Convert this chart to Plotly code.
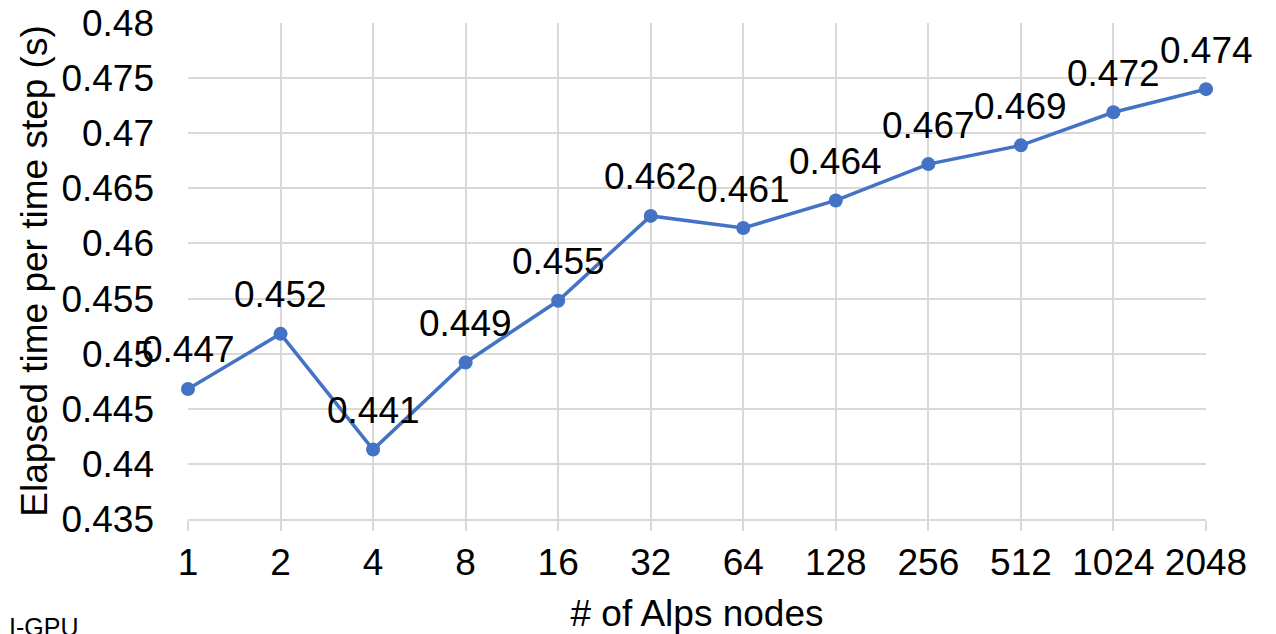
import plotly.graph_objects as go

nodes = ["1", "2", "4", "8", "16", "32", "64", "128", "256", "512", "1024", "2048"]
elapsed = [0.4468, 0.4518, 0.4413, 0.4492, 0.4548, 0.4625, 0.4614, 0.4639, 0.4672, 0.4689, 0.4719, 0.4740]
labels = ["0.447", "0.452", "0.441", "0.449", "0.455", "0.462", "0.461", "0.464", "0.467", "0.469", "0.472", "0.474"]
y_ticks = [0.435, 0.44, 0.445, 0.45, 0.455, 0.46, 0.465, 0.47, 0.475, 0.48]
y_ticktext = ["0.435", "0.44", "0.445", "0.45", "0.455", "0.46", "0.465", "0.47", "0.475", "0.48"]

FONT = "Liberation Sans, Arial, sans-serif"
BLUE = "#4472C4"
GRID = "#D9D9D9"

fig = go.Figure()
fig.add_trace(go.Scatter(
    x=nodes, y=elapsed, mode="lines+markers",
    line=dict(color=BLUE, width=3.5),
    marker=dict(color=BLUE, size=14),
    hoverinfo="skip", showlegend=False, cliponaxis=False,
))

# category axis: annotation x is the category index
for i, (yv, t) in enumerate(zip(elapsed, labels)):
    fig.add_annotation(x=i, y=yv, text=t, showarrow=False, yshift=39,
                       font=dict(family=FONT, size=37, color="#000000"))

fig.add_annotation(x=0, y=0, xref="paper", yref="paper", xanchor="left", yanchor="top",
                   text="I-GPU", showarrow=False, xshift=-181, yshift=-92,
                   font=dict(family=FONT, size=25, color="#000000"))

# the page adds an 8px body margin, so the figure is 8px smaller than the window
fig.update_layout(
    width=1268, height=626,
    margin=dict(l=180, r=70, t=15, b=115, autoexpand=False),
    paper_bgcolor="white", plot_bgcolor="white",
    font=dict(family=FONT, size=37, color="#000000"),
    xaxis=dict(
        type="category", range=[0, len(nodes) - 1], automargin=False,
        showgrid=True, gridcolor=GRID, gridwidth=1.5,
        showline=True, linecolor=GRID, linewidth=1.5,
        ticks="outside", ticklen=10, tickcolor=GRID, tickwidth=1.5,
        tickfont=dict(size=37), ticklabeloverflow="allow",
        title=dict(text="# of Alps nodes", font=dict(size=37), standoff=22),
        zeroline=False, fixedrange=True,
    ),
    yaxis=dict(
        range=[0.435, 0.48], tickvals=y_ticks, ticktext=y_ticktext, automargin=False,
        showgrid=True, gridcolor=GRID, gridwidth=1.5,
        showline=False, ticks="", ticklabelstandoff=33, ticklabeloverflow="allow",
        tickfont=dict(size=37),
        title=dict(text="Elapsed time per time step (s)", font=dict(size=37), standoff=2),
        zeroline=False, fixedrange=True,
    ),
)

fig.write_html("out.html")
